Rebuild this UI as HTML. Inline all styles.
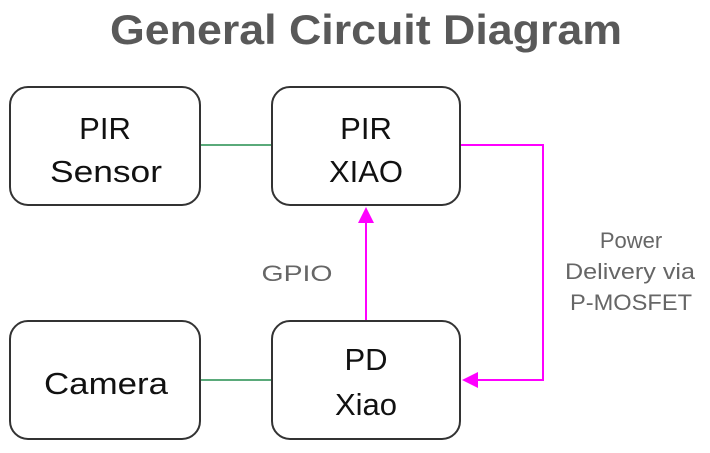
<!DOCTYPE html>
<html><head><style>
body{margin:0;width:710px;height:448px;background:#fff;font-family:"Liberation Sans",sans-serif;overflow:hidden}
</style></head><body>
<svg width="710" height="448" xmlns="http://www.w3.org/2000/svg" font-family="Liberation Sans, sans-serif">
<text x="366" y="44" text-anchor="middle" font-size="42" font-weight="bold" fill="#595959" textLength="512" lengthAdjust="spacingAndGlyphs">General Circuit Diagram</text>
<g fill="#fff" stroke="#333" stroke-width="2">
<rect x="10" y="87" width="190" height="118" rx="18"/>
<rect x="272" y="87" width="188" height="118" rx="18"/>
<rect x="10" y="321" width="190" height="118" rx="18"/>
<rect x="272" y="321" width="188" height="118" rx="18"/>
</g>
<g stroke="#5aaa7a" stroke-width="2"><line x1="201" y1="145" x2="271" y2="145"/><line x1="201" y1="380" x2="271" y2="380"/></g>
<g stroke="#ff00ff" stroke-width="2" fill="none">
<polyline points="461,145 543,145 543,380 476,380"/>
<line x1="366" y1="320" x2="366" y2="222"/>
</g>
<polygon points="462,380 478,372 478,388" fill="#ff00ff"/>
<polygon points="366,207 358,223 374,223" fill="#ff00ff"/>
<g font-size="31" fill="#111" text-anchor="middle">
<text x="105" y="139">PIR</text><text x="106" y="182" textLength="112" lengthAdjust="spacingAndGlyphs">Sensor</text>
<text x="366" y="139">PIR</text><text x="366" y="182">XIAO</text>
<text x="106" y="394" textLength="124" lengthAdjust="spacingAndGlyphs">Camera</text>
<text x="366" y="370">PD</text><text x="366" y="415">Xiao</text>
</g>
<g font-size="22" fill="#666" text-anchor="middle">
<text x="297" y="281" textLength="71" lengthAdjust="spacingAndGlyphs">GPIO</text>
<text x="631" y="248">Power</text>
<text x="630" y="279" textLength="130" lengthAdjust="spacingAndGlyphs">Delivery via</text>
<text x="631" y="310" textLength="122" lengthAdjust="spacingAndGlyphs">P-MOSFET</text>
</g>
</svg>
</body></html>
